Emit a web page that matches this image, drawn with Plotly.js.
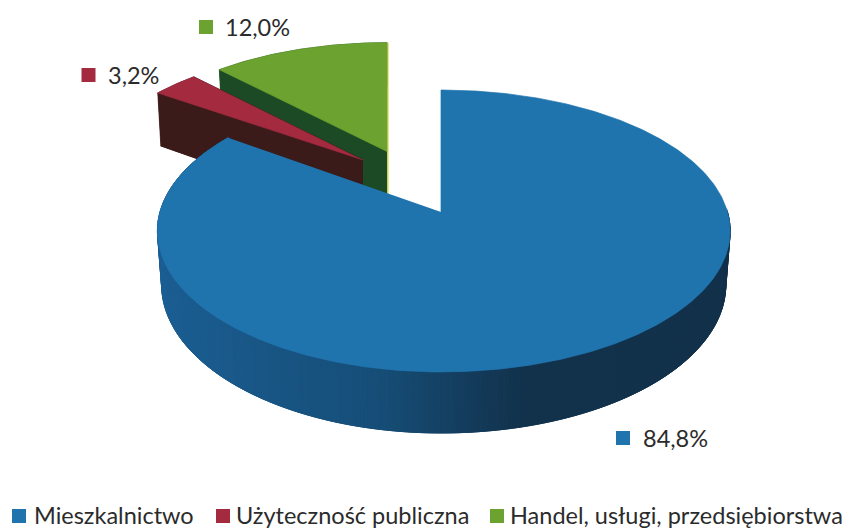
<!DOCTYPE html>
<html><head><meta charset="utf-8">
<script src="https://cdn.plot.ly/plotly-3.0.1.min.js"></script>
<style>html,body{margin:0;padding:0;background:#fff}#c{width:849px;height:529px}</style>
</head><body><div id="c"></div>
<script>
const categories = ["Mieszkalnictwo", "Użyteczność publiczna", "Handel, usługi, przedsiębiorstwa"];
const values = [84.8, 3.2, 12.0];
const valueLabels = ["84,8%", "3,2%", "12,0%"];
const topColors = ["#1f74ae", "#a32a3f", "#6ca22f"];
const sideColors = ["#12304a", "#3a1b1a", "#1c4a24"];
// rim shading of the big slice: [angle clockwise from 12 o'clock, r, g, b]
const rimStops = [[90, 18, 48, 74], [164, 18, 50, 76], [190, 22, 78, 120], [225, 26, 90, 140], [270, 28, 97, 152], [306, 28, 97, 152]];

// projection of the tilted disc (pixels)
const apex = [441, 212], B = 138.4, K = 0.1348;
const widthLeft = [281, 284.4, 284.4], widthRight = [286.5, 284.4, 284.4];
// per-slice explosion: horizontal shift in px, shift along the disc depth, wall height
const shiftX = [0, -78, -54], shiftV = [0, 0.396, 0.465], wall = [52.8, 60, 52.8];
const labelAnchors = [[623, 438], [88.5, 75], [206, 27]];
const labelTextX = [641, 106, 223];
const legendAnchors = [[19, 516], [223, 516], [497, 516]];
const legendTextX = [32, 234, 508];
const labelFont = {family: "Lato, Carlito, sans-serif", size: 23.5, color: "#2b2b2b"};
const edgeColor = "#d8dc3a";

function a0(i) { return apex[0] + shiftX[i]; }
function project(i, su, sv, lower) {
  const v = shiftV[i] + sv, d = 1 + K * v;
  const A = su < 0 ? widthLeft[i] : widthRight[i];
  let x = a0(i) + A * su / d, y = apex[1] - B * v / d;
  if (lower) { x = a0(i) + (x - a0(i)) * 0.985; y += wall[i] / d; }
  return [x, y];
}
function poly(pts, color, name) {
  return {type: "scatter", mode: "lines", x: pts.map(p => p[0]), y: pts.map(p => p[1]),
    fill: "toself", fillcolor: color, line: {color: color, width: 0.7}, hoverinfo: "skip", showlegend: false, name};
}
function rimColor(deg) {
  for (let s = 1; s < rimStops.length; s++) {
    const p = rimStops[s - 1], q = rimStops[s];
    if (deg <= q[0]) {
      const f = Math.max(0, (deg - p[0]) / (q[0] - p[0]));
      const c = [1, 2, 3].map(k => Math.round(p[k] + (q[k] - p[k]) * f));
      return "rgb(" + c.join(",") + ")";
    }
  }
  return sideColors[0];
}

const traces = [];
let start = 0;
const spans = values.map(v => { const s = [start, start + v / 100 * 360]; start = s[1]; return s; });
function sliceTraces(i) {
  const [a, b] = spans[i], n = Math.max(8, Math.round((b - a) * 1.5));
  const deg = []; for (let j = 0; j <= n; j++) deg.push(a + (b - a) * j / n);
  const ang = deg.map(d => d * Math.PI / 180);
  const out = [];
  const topArc = ang.map(t => project(i, Math.sin(t), Math.cos(t), false));
  const lowArc = ang.map(t => project(i, Math.sin(t), Math.cos(t), true));
  if (i > 0) {
    out.push(poly([project(i, 0, 0, true), ...lowArc], sideColors[i], categories[i]));
    [0, n].forEach(j => out.push(poly([project(i, 0, 0, false), topArc[j], lowArc[j], project(i, 0, 0, true)], sideColors[i], categories[i])));
    out.push(poly([...topArc, ...lowArc.slice().reverse()], sideColors[i], categories[i]));
  } else {
    // shaded rim of the big slice, only the part that faces the viewer;
    // each band overlaps the following ones so no seams appear
    for (let j = 0; j < n; j++) {
      if (deg[j] < 88) continue;
      const e = Math.min(n, j + 3);
      const upper = topArc.slice(j, e + 1), lower = lowArc.slice(j, e + 1).reverse();
      out.unshift(poly([...upper, ...lower], rimColor(deg[j]), categories[i]));
    }
  }
  out.push(poly([project(i, 0, 0, false), ...topArc], topColors[i], categories[i]));
  return out;
}
[2, 1].forEach(i => traces.push(...sliceTraces(i)));
// thin bright edge on the green slice
const gTop = project(2, 0, 1, false), gLow = project(2, 0, 0, true);
traces.push({type: "scatter", mode: "lines", x: [gTop[0] + 1, gLow[0] + 1], y: [gTop[1], gLow[1]],
  line: {color: edgeColor, width: 1.2}, hoverinfo: "skip", showlegend: false});
traces.push(...sliceTraces(0));

[labelAnchors, legendAnchors].forEach(list => traces.push({type: "scatter", mode: "markers",
  x: list.map(p => p[0]), y: list.map(p => p[1]),
  marker: {symbol: "square", size: 14, color: topColors}, hoverinfo: "skip", showlegend: false}));

const annotations = [];
valueLabels.forEach((t, i) => annotations.push({x: labelTextX[i], y: labelAnchors[i][1], text: t,
  showarrow: false, xanchor: "left", yanchor: "middle", font: labelFont, xref: "x", yref: "y"}));
categories.forEach((t, i) => annotations.push({x: legendTextX[i], y: legendAnchors[i][1] - 1, text: t,
  showarrow: false, xanchor: "left", yanchor: "middle", font: labelFont, xref: "x", yref: "y"}));

Plotly.newPlot("c", traces, {
  width: 849, height: 529, margin: {l: 0, r: 0, t: 0, b: 0},
  paper_bgcolor: "#fff", plot_bgcolor: "#fff", showlegend: false,
  xaxis: {range: [0, 849], visible: false, fixedrange: true},
  yaxis: {range: [529, 0], visible: false, fixedrange: true},
  annotations
}, {displayModeBar: false, staticPlot: true});
</script></body></html>
